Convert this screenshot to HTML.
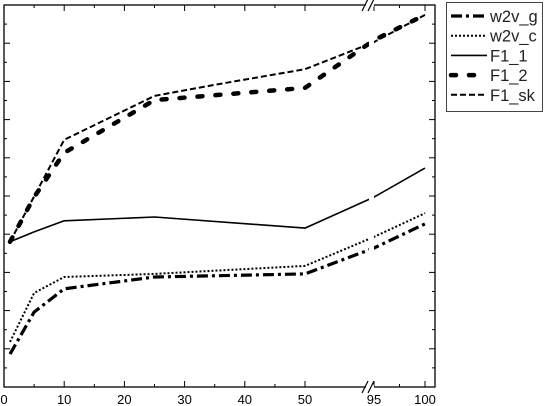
<!DOCTYPE html>
<html><head><meta charset="utf-8"><style>
body{margin:0;background:#fff;}
svg{display:block;font-family:"Liberation Sans",sans-serif;}
</style></head><body>
<svg id="chart" width="544" height="406">
<g id="series"></g>
<g id="axes"></g>
<g id="legend"></g>
</svg>
<script>
const xs = [1, 5, 10, 25, 50, 95, 100];
const w2vG = [0.86, 1.96, 2.57, 2.88, 2.96, 3.64, 4.27];
const w2vC = [1.18, 2.46, 2.88, 2.96, 3.17, 3.93, 4.55];
const f1One = [3.80, 4.06, 4.35, 4.45, 4.16, 4.97, 5.73];
const f1TwoX = [1, 5, 10, 25, 50, 95, 100];
const f1Two = [3.80, 4.97, 6.13, 7.51, 7.83, 9.08, 9.74];
const f1SkX = [1, 10, 25, 35, 50, 95, 100];
const f1Sk = [3.80, 6.47, 7.62, 7.91, 8.32, 9.03, 9.74];
const xTickLabels = [0, 10, 20, 30, 40, 50, 95, 100];
const seriesNames = ["w2v_g", "w2v_c", "F1_1", "F1_2", "F1_sk"];

const NS = "http://www.w3.org/2000/svg";
const L = 4, R = 435, T = 5, B = 387;
function sx(v){ return v <= 50 ? L + v * 6.02 : 374 + (v - 95) * 10.2; }
function sy(v){ return B - v * 38.2; }
function mk(tag, attrs, parent){
  const e = document.createElementNS(NS, tag);
  for (const k in attrs) e.setAttribute(k, attrs[k]);
  parent.appendChild(e); return e;
}
const styles = {
  "w2v_g": {w: 3.2, d: "11,4,3,4", cap: "butt"},
  "w2v_c": {w: 2, d: "2,2", cap: "butt"},
  "F1_1": {w: 1.6, d: "", cap: "butt"},
  "F1_2": {w: 4.5, d: "5,13", cap: "round"},
  "F1_sk": {w: 2, d: "6,3", cap: "butt"}
};
const sg = document.getElementById("series");
const data = [[xs, w2vG], [xs, w2vC], [xs, f1One], [f1TwoX, f1Two], [f1SkX, f1Sk]];
data.forEach((d, i) => {
  const name = seriesNames[i], st = styles[name];
  const pts = d[0].map((x, j) => sx(x).toFixed(1) + "," + sy(d[1][j]).toFixed(1)).join(" ");
  const p = mk("polyline", {points: pts, fill: "none", stroke: "#000", "stroke-width": st.w, "stroke-dasharray": st.d, "stroke-linecap": st.cap, "stroke-linejoin": "round"}, sg);
  
  
});
const gap = mk("rect", {x: 369, y: 8, width: 5, height: 376, fill: "#fff"}, sg);



const ax = document.getElementById("axes");
const frame = mk("rect", {x: L, y: T, width: R - L, height: B - T, fill: "none", stroke: "#000", "stroke-width": 1.3}, ax);


for (let i = 0; i <= 20; i++){
  const y = sy(i / 2), len = i % 2 ? 3 : 6;
  mk("line", {x1: L, x2: L + len, y1: y, y2: y, stroke: "#000", "stroke-width": 1}, ax);
  mk("line", {x1: R, x2: R - len, y1: y, y2: y, stroke: "#000", "stroke-width": 1}, ax);
}
const xt = [];
for (let v = 0; v <= 50; v += 5) xt.push([v, v % 10 === 0]);
xt.push([95, true], [97.5, false], [100, true]);
xt.forEach(([v, major]) => {
  const x = sx(v), len = major ? 6 : 3;
  mk("line", {x1: x, x2: x, y1: B, y2: B - len, stroke: "#000", "stroke-width": 1}, ax);
  mk("line", {x1: x, x2: x, y1: T, y2: T + len, stroke: "#000", "stroke-width": 1}, ax);
});
xTickLabels.forEach(v => {
  const t = mk("text", {x: sx(v), y: 404, "text-anchor": "middle", "font-size": 13}, ax);
  t.textContent = v;
  
  
});
[[T, "top"], [B, "bottom"]].forEach(([y, n]) => {
  mk("rect", {x: 366, y: y - 1.5, width: 8, height: 3, fill: "#fff"}, ax);
  const g = mk("g", {}, ax);
  
  
  mk("line", {x1: 362, y1: y + 6, x2: 368, y2: y - 6, stroke: "#000", "stroke-width": 1.2}, g);
  mk("line", {x1: 368, y1: y + 6, x2: 374, y2: y - 6, stroke: "#000", "stroke-width": 1.2}, g);
});

const lg = document.getElementById("legend");
const box = mk("rect", {x: 446.5, y: 2.5, width: 96, height: 109, fill: "#fff", stroke: "#444", "stroke-width": 1}, lg);


seriesNames.forEach((name, i) => {
  const st = styles[name], y = 16 + i * 19.7;
  const g = mk("g", {}, lg);
  
  
  mk("line", {x1: 451, x2: 487, y1: y, y2: y, stroke: "#000", "stroke-width": st.w, "stroke-dasharray": st.d, "stroke-linecap": st.cap}, g);
  const t = mk("text", {x: 490, y: y + 6, "font-size": 16.5, fill: "#222"}, g);
  t.textContent = name;
});
</script>
</body></html>
